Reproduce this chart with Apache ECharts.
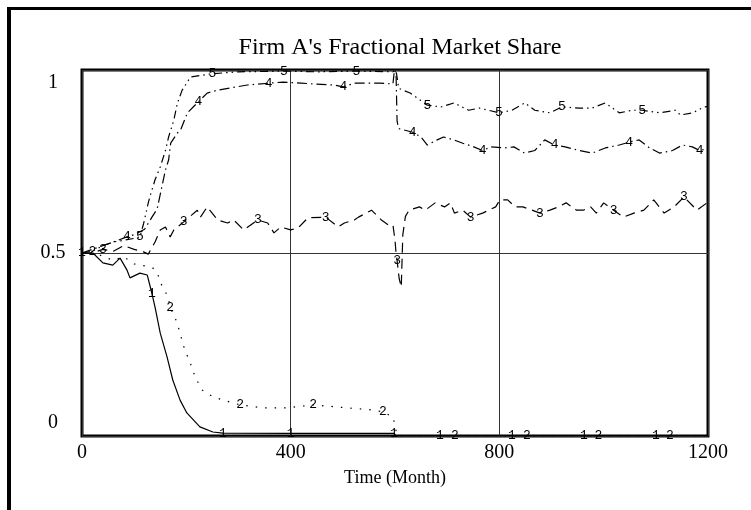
<!DOCTYPE html>
<html>
<head>
<meta charset="utf-8">
<script src="https://cdn.jsdelivr.net/npm/echarts@6/dist/echarts.min.js"></script>
<style>
  html, body { margin: 0; padding: 0; background: #fff; }
  #chart { width: 751px; height: 510px; }
</style>
</head>
<body>
<div id="chart"></div>
<script>
// time (months) and value readings for each run
var t1 = [0, 21, 40, 59, 73, 86, 92, 111, 125, 134, 140, 150, 163, 174, 188, 201, 226, 251, 270, 400, 598, 600, 602, 686, 824, 962, 1100, 1200];
var v1 = [0.5, 0.5, 0.473, 0.467, 0.486, 0.454, 0.432, 0.445, 0.44, 0.39, 0.352, 0.281, 0.216, 0.153, 0.098, 0.063, 0.025, 0.011, 0.008, 0.007, 0.007, 0.003, 0, 0, 0, 0, 0, 0];

var t2 = [0, 20, 40, 60, 80, 100, 120, 135, 144, 150, 165, 169, 182, 197, 207, 217, 230, 251, 278, 303, 347, 393, 443, 508, 558, 577, 596, 600, 604, 715, 853, 990, 1127, 1200];
var v2 = [0.5, 0.505, 0.49, 0.48, 0.49, 0.47, 0.465, 0.46, 0.448, 0.42, 0.38, 0.352, 0.311, 0.235, 0.202, 0.161, 0.126, 0.107, 0.095, 0.085, 0.077, 0.077, 0.085, 0.077, 0.071, 0.066, 0.052, 0.03, 0, 0, 0, 0, 0, 0];

var t3 = [0, 20, 40, 60, 80, 100, 118, 127, 140, 150, 160, 169, 176, 195, 221, 227, 240, 260, 279, 291, 310, 337, 356, 368, 381, 400, 414, 433, 467, 491, 503, 522, 530, 555, 574, 587, 596, 600, 602, 604, 608, 612, 615, 620, 627, 647, 658, 677, 695, 706, 714, 730, 745, 768, 793, 801, 816, 830, 845, 878, 897, 913, 928, 948, 961, 975, 986, 1000, 1019, 1038, 1058, 1077, 1096, 1116, 1135, 1154, 1179, 1198];
var v3 = [0.5, 0.5, 0.51, 0.505, 0.52, 0.51, 0.503, 0.497, 0.53, 0.563, 0.571, 0.544, 0.563, 0.585, 0.617, 0.598, 0.626, 0.59, 0.582, 0.59, 0.563, 0.59, 0.582, 0.555, 0.571, 0.563, 0.568, 0.596, 0.598, 0.571, 0.582, 0.59, 0.598, 0.617, 0.59, 0.577, 0.577, 0.535, 0.5, 0.48, 0.43, 0.407, 0.55, 0.6, 0.617, 0.626, 0.617, 0.637, 0.626, 0.637, 0.609, 0.617, 0.598, 0.609, 0.626, 0.645, 0.645, 0.626, 0.626, 0.609, 0.617, 0.626, 0.637, 0.617, 0.617, 0.626, 0.609, 0.637, 0.617, 0.598, 0.609, 0.617, 0.645, 0.609, 0.626, 0.653, 0.617, 0.637];

var t4 = [0, 20, 40, 60, 86, 100, 120, 135, 144, 160, 166, 170, 183, 189, 202, 223, 240, 260, 285, 317, 358, 385, 420, 445, 484, 501, 522, 549, 570, 596, 599, 602, 604, 607, 634, 650, 662, 681, 693, 713, 730, 751, 768, 784, 809, 828, 848, 868, 887, 906, 926, 953, 978, 1003, 1030, 1049, 1068, 1088, 1107, 1132, 1151, 1170, 1184, 1200];
var v4 = [0.5, 0.51, 0.52, 0.53, 0.544, 0.55, 0.565, 0.6, 0.62, 0.727, 0.754, 0.8, 0.828, 0.836, 0.883, 0.913, 0.937, 0.945, 0.951, 0.959, 0.964, 0.967, 0.964, 0.962, 0.959, 0.954, 0.964, 0.964, 0.964, 0.962, 1.0, 0.99, 0.86, 0.84, 0.83, 0.817, 0.795, 0.809, 0.817, 0.809, 0.8, 0.79, 0.78, 0.79, 0.787, 0.79, 0.773, 0.78, 0.809, 0.795, 0.79, 0.78, 0.773, 0.787, 0.795, 0.803, 0.809, 0.787, 0.773, 0.78, 0.795, 0.79, 0.78, 0.785];

var t5 = [0, 20, 40, 60, 80, 100, 111, 118, 127, 131, 140, 150, 160, 166, 176, 183, 192, 208, 250, 300, 387, 450, 526, 596, 600, 603, 607, 629, 662, 688, 713, 741, 762, 799, 824, 849, 868, 897, 920, 953, 978, 1003, 1030, 1055, 1074, 1107, 1138, 1147, 1170, 1193, 1200];
var v5 = [0.5, 0.505, 0.52, 0.53, 0.535, 0.54, 0.544, 0.58, 0.637, 0.658, 0.7, 0.735, 0.78, 0.817, 0.863, 0.91, 0.945, 0.981, 0.99, 0.995, 0.997, 0.995, 0.997, 0.995, 1.0, 0.99, 0.95, 0.937, 0.904, 0.899, 0.91, 0.89, 0.896, 0.883, 0.89, 0.91, 0.89, 0.883, 0.899, 0.896, 0.896, 0.91, 0.883, 0.89, 0.89, 0.883, 0.89, 0.877, 0.883, 0.899, 0.9];

// where the run numbers are written along each line
var m1 = [0, 136, 274, 412, 552, 686, 824, 962, 1100];
var m2 = [20, 169, 303, 443, 577, 715, 853, 990, 1127];
var m3 = [50, 195, 337, 467, 605, 743, 881, 1019, 1155];
var m4 = [86, 223, 358, 501, 634, 768, 906, 1049, 1184];
var m5 = [111, 250, 387, 526, 662, 799, 936, 1074];

var xTicks = ["0", "400", "800", "1200"];
var yTicks = ["0", "0.5", "1"];

var chart = echarts.init(document.getElementById("chart"));

// pair up times and values, put the run number on the points nearest the marks
function buildData(ts, vs, marks, name) {
  var nearest = {};
  marks.forEach(function (m) {
    var best = 0;
    for (var i = 1; i < ts.length; i++) {
      if (Math.abs(ts[i] - m) < Math.abs(ts[best] - m)) best = i;
    }
    nearest[best] = true;
  });
  return ts.map(function (t, i) {
    if (nearest[i]) {
      return { value: [t, vs[i]], label: { show: true, formatter: name } };
    }
    return [t, vs[i]];
  });
}

var dashes = ["solid", [1.5, 8], [10, 6], [10, 4, 1.5, 4], [8, 4, 1.5, 4, 1.5, 4]];
var runs = [[t1, v1, m1], [t2, v2, m2], [t3, v3, m3], [t4, v4, m4], [t5, v5, m5]];

var series = [];
runs.forEach(function (r, i) {
  series.push({
    name: String(i + 1),
    type: "line",
    data: buildData(r[0], r[1], r[2], String(i + 1)),
    symbol: "circle",
    symbolSize: 0.1,
    showSymbol: true,
    itemStyle: { color: "rgba(0,0,0,0)" },
    label: {
      show: false,
      position: "inside",
      color: "#000",
      fontFamily: "Liberation Mono",
      fontSize: 13
    },
    lineStyle: { color: "#000", width: 1.2, type: dashes[i] },
    animation: false
  });
});

var option = {
  backgroundColor: "#fff",
  animation: false,
  title: {
    text: "Firm A's Fractional Market Share",
    left: 395,
    top: 31,
    textAlign: "center",
    textStyle: {
      fontFamily: "Liberation Serif",
      fontWeight: "normal",
      fontSize: 24,
      color: "#000"
    }
  },
  grid: {
    left: 82,
    right: 43,
    top: 70,
    bottom: 74,
    show: true,
    borderColor: "#000",
    borderWidth: 3
  },
  xAxis: {
    type: "value",
    min: 0,
    max: 1200,
    interval: 400,
    name: "Time (Month)",
    nameLocation: "middle",
    nameGap: 33,
    nameTextStyle: { fontFamily: "Liberation Serif", fontSize: 18, color: "#000" },
    axisLine: { show: false },
    axisTick: { show: false },
    splitLine: { show: true, lineStyle: { color: "#333", width: 1 } },
    axisLabel: {
      margin: 7,
      fontFamily: "Liberation Serif",
      fontSize: 20,
      color: "#000",
      formatter: function (v) { return xTicks[Math.round(v / 400)]; }
    }
  },
  yAxis: {
    type: "value",
    min: 0,
    max: 1,
    interval: 0.5,
    axisLine: { show: false },
    axisTick: { show: false },
    splitLine: { show: true, lineStyle: { color: "#333", width: 1 } },
    axisLabel: {
      margin: 29,
      align: "center",
      fontFamily: "Liberation Serif",
      fontSize: 20,
      lineHeight: 26,
      color: "#000",
      verticalAlignMaxLabel: "top",
      verticalAlignMinLabel: "bottom",
      formatter: function (v) { return yTicks[Math.round(v / 0.5)]; }
    }
  },
  graphic: [
    { type: "rect", shape: { x: 7, y: 7, width: 744, height: 3 }, style: { fill: "#000" } },
    { type: "rect", shape: { x: 7, y: 7, width: 4, height: 503 }, style: { fill: "#000" } }
  ],
  series: series
};

chart.setOption(option);
window.addEventListener("resize", function () {
  chart.resize();
});
</script>
</body>
</html>
